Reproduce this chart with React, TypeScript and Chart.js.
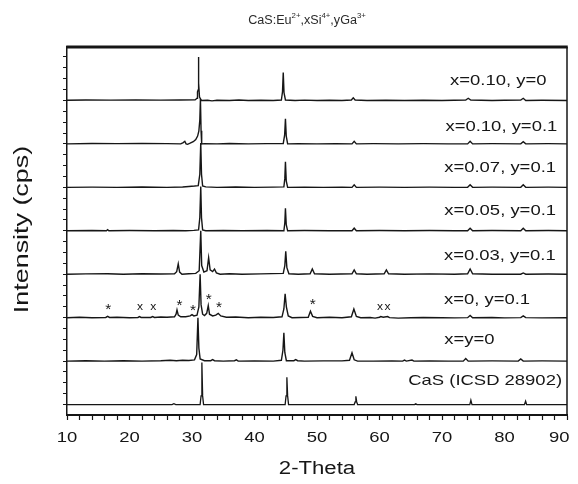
import React, { useEffect, useRef } from 'react';
import { Chart, registerables } from 'chart.js';

Chart.register(...registerables);

// ---------- data ----------
const SERIES_LABELS = [
  'x=0.10, y=0',
  'x=0.10, y=0.1',
  'x=0.07, y=0.1',
  'x=0.05, y=0.1',
  'x=0.03, y=0.1',
  'x=0, y=0.1',
  'x=y=0',
  'CaS (ICSD 28902)',
];
// stacking position of each pattern (one unit per pattern)
const STACK_OFFSETS = [7, 6, 5, 4, 3, 2, 1, 0];
// label anchor (2-theta) and height above its own baseline
const LABEL_X = [79.0, 79.5, 79.3, 79.3, 79.25, 77.2, 74.4, 76.9];
const LABEL_Y = [0.45, 0.39, 0.44, 0.45, 0.42, 0.42, 0.5, 0.55];

const X_TICK_LABELS = [10, 20, 30, 40, 50, 60, 70, 80, 90];
const Y_TICK_VALUES = [
  0, 0.25, 0.5, 0.75, 1, 1.25, 1.5, 1.75, 2, 2.25, 2.5, 2.75, 3, 3.25, 3.5, 3.75,
  4, 4.25, 4.5, 4.75, 5, 5.25, 5.5, 5.75, 6, 6.25, 6.5, 6.75, 7, 7.25, 7.5, 7.75, 8,
];

// impurity markers on the "x=0, y=0.1" pattern
const MARKER_SERIES = 5;
const MARKER_SYMBOLS = ['*', 'x', 'x', '*', '*', '*', '*', '*', 'x', 'x'];
const MARKER_X = [16.6, 21.7, 23.8, 28.0, 30.15, 32.66, 34.3, 49.3, 60.1, 61.3];
const MARKER_Y = [0.24, 0.24, 0.24, 0.33, 0.21, 0.47, 0.27, 0.34, 0.24, 0.24];

type P = [number, number];

const TRACE_X010_Y0: P[] = [
  [10, 0.005], [13, 0.01], [17, 0.008], [21, 0.01], [25, 0.008], [28, 0.01], [30.5, 0.012],
  [30.8, 0.05], [30.88, 0.2], [30.98, 0.24], [31.02, 0.5], [31.05, 1.0], [31.1, 0.4], [31.2, 0.08],
  [31.5, 0.0], [32.5, 0.005], [33.2, -0.01], [34, 0.005], [36, 0.0], [37.5, 0.01], [39, 0.0],
  [41, 0.005], [43, 0.0], [44.3, 0.01], [44.48, 0.2], [44.6, 0.64], [44.72, 0.18], [44.95, 0.01],
  [46.5, 0.0], [48, 0.008], [50, 0.0], [52, 0.005], [54, 0.0], [55.5, 0.01], [55.8, 0.06],
  [56.1, 0.01], [58, 0.0], [61, 0.006], [64, 0.0], [67, 0.005], [70, 0.0], [73.8, 0.01],
  [74.2, 0.05], [74.6, 0.01], [78, 0.0], [80, 0.005], [82.6, 0.01], [83, 0.05], [83.4, 0.0],
  [86, 0.005], [90, 0.0],
];

const TRACE_X010_Y01: P[] = [
  [10, 0.0], [14, 0.008], [18, 0.005], [22, 0.008], [26, 0.005], [28.2, 0.0], [28.6, 0.03],
  [28.85, 0.06], [29.05, 0.0], [29.3, -0.01], [29.7, 0.015], [30.2, 0.05], [30.6, 0.1],
  [30.9, 0.18], [31.1, 0.3], [31.25, 0.55], [31.35, 1.03], [31.45, 0.3], [31.55, 0.0],
  [32, 0.005], [34, 0.0], [36, 0.008], [39, 0.0], [42, 0.005], [44.6, 0.01], [44.82, 0.2],
  [44.95, 0.58], [45.08, 0.18], [45.3, 0.0], [47, 0.005], [50, 0.0], [53, 0.005], [55.6, 0.0],
  [55.95, 0.06], [56.3, 0.0], [59, 0.005], [63, 0.0], [67, 0.005], [71, 0.0], [74.1, 0.0],
  [74.5, 0.06], [74.9, 0.0], [78, 0.005], [82.6, 0.0], [83, 0.05], [83.4, 0.0], [87, 0.005],
  [90, 0.0],
];

const TRACE_X007_Y01: P[] = [
  [10, 0.0], [14, 0.005], [18, 0.0], [22, 0.008], [26, 0.0], [28.5, 0.008], [29.5, 0.02],
  [30.4, 0.03], [31.0, 0.04], [31.25, 0.3], [31.4, 1.02], [31.52, 0.3], [31.7, 0.03],
  [32.2, 0.01], [34, 0.0], [37, 0.008], [40, 0.0], [43, 0.005], [44.7, 0.01], [44.85, 0.2],
  [44.95, 0.59], [45.08, 0.15], [45.3, 0.0], [48, 0.005], [51, 0.0], [54, 0.005], [55.6, 0.0],
  [55.95, 0.06], [56.3, 0.0], [60, 0.005], [64, 0.0], [68, 0.005], [72, 0.0], [74.1, 0.0],
  [74.5, 0.06], [74.9, 0.0], [78, 0.005], [82.6, 0.0], [83, 0.06], [83.4, 0.0], [87, 0.005],
  [90, 0.0],
];

const TRACE_X005_Y01: P[] = [
  [10, 0.0], [14, 0.005], [16.3, 0.0], [16.5, 0.025], [16.7, 0.0], [20, 0.005], [24, 0.0],
  [27, 0.008], [29, 0.0], [30.3, 0.01], [31.05, 0.02], [31.25, 0.3], [31.4, 1.02], [31.52, 0.3],
  [31.7, 0.02], [32.2, 0.0], [35, 0.005], [38, 0.0], [42, 0.008], [44.7, 0.0], [44.85, 0.18],
  [44.95, 0.52], [45.08, 0.14], [45.3, 0.0], [48, 0.005], [52, 0.0], [55.6, 0.0], [55.95, 0.06],
  [56.3, 0.0], [60, 0.005], [64, 0.0], [68, 0.005], [72, 0.0], [74.1, 0.0], [74.5, 0.06],
  [74.9, 0.0], [78, 0.005], [82.6, 0.0], [83, 0.06], [83.4, 0.0], [87, 0.005], [90, 0.0],
];

const TRACE_X003_Y01: P[] = [
  [10, 0.0], [13, 0.008], [16.5, 0.01], [19, 0.0], [22, 0.01], [25, 0.005], [27.2, 0.01],
  [27.55, 0.06], [27.8, 0.24], [28.02, 0.05], [28.4, 0.0], [29.5, 0.01], [30.6, 0.02],
  [31.15, 0.08], [31.4, 1.0], [31.55, 0.2], [31.9, 0.05], [32.4, 0.08], [32.66, 0.38],
  [32.9, 0.1], [33.3, 0.06], [33.6, 0.12], [33.9, 0.03], [34.5, 0.0], [36, 0.01], [38, 0.0],
  [41, 0.008], [44.6, 0.02], [44.85, 0.2], [45.0, 0.53], [45.18, 0.15], [45.5, 0.01], [47, 0.0],
  [48.9, 0.01], [49.25, 0.12], [49.6, 0.01], [52, 0.0], [55.6, 0.01], [55.95, 0.1], [56.3, 0.01],
  [58, 0.0], [60.75, 0.01], [61.1, 0.1], [61.45, 0.01], [64, 0.0], [68, 0.008], [72, 0.0],
  [74.1, 0.01], [74.5, 0.12], [74.9, 0.01], [78, 0.0], [82.6, 0.0], [83, 0.03], [83.4, 0.0],
  [87, 0.005], [90, 0.0],
];

const TRACE_X0_Y01: P[] = [
  [10, 0.0], [12, 0.01], [14, 0.0], [16.2, 0.005], [16.5, 0.03], [16.8, 0.005], [18, 0.01],
  [20, 0.0], [21.35, 0.005], [21.6, 0.025], [21.85, 0.005], [23.4, 0.005], [23.7, 0.025],
  [24, 0.005], [25, 0.015], [26, 0.01], [27.2, 0.02], [27.45, 0.08], [27.6, 0.18], [27.8, 0.06],
  [28.2, 0.02], [29.0, 0.02], [29.7, 0.04], [30.0, 0.07], [30.3, 0.04], [30.8, 0.06],
  [31.1, 0.25], [31.3, 1.0], [31.45, 0.3], [31.7, 0.08], [32.0, 0.05], [32.35, 0.1],
  [32.6, 0.28], [32.8, 0.08], [33.3, 0.04], [33.8, 0.06], [34.2, 0.1], [34.6, 0.04],
  [35.5, 0.01], [37, 0.015], [39, 0.0], [41, 0.01], [43, 0.005], [44.4, 0.02], [44.7, 0.2],
  [44.9, 0.55], [45.1, 0.25], [45.4, 0.04], [46, 0.0], [48.6, 0.01], [48.95, 0.15], [49.3, 0.03],
  [50, 0.0], [52, 0.01], [54, 0.0], [55.5, 0.02], [55.9, 0.2], [56.3, 0.03], [57, 0.0],
  [58.5, 0.005], [59.3, -0.01], [60.0, 0.01], [60.2, 0.025], [60.6, 0.01], [61.3, 0.025],
  [61.6, 0.0], [63, -0.01], [65, 0.0], [67, 0.005], [70, 0.0], [72, -0.005], [74.1, 0.0],
  [74.5, 0.05], [74.9, 0.0], [78, 0.005], [80, -0.005], [82.6, 0.0], [83, 0.04], [83.4, 0.0],
  [86, -0.005], [90, 0.0],
];

const TRACE_X0_Y0: P[] = [
  [10, 0.0], [13, 0.008], [16, 0.0], [19, 0.01], [22, 0.0], [25, 0.01], [26.5, 0.02],
  [27.5, 0.01], [28.5, 0.02], [29.5, 0.015], [30.4, 0.03], [30.75, 0.15], [30.95, 1.0],
  [31.1, 0.3], [31.3, 0.05], [32, 0.01], [33.0, 0.01], [33.3, 0.035], [33.6, 0.01], [35, 0.0],
  [36.8, 0.01], [37.1, 0.03], [37.4, 0.0], [40, 0.005], [43, 0.0], [44.3, 0.02], [44.55, 0.25],
  [44.7, 0.65], [44.85, 0.2], [45.1, 0.01], [46.3, 0.01], [46.6, 0.035], [46.9, 0.01], [48, 0.0],
  [51, 0.005], [54, 0.005], [55.2, 0.02], [55.6, 0.19], [55.95, 0.03], [56.5, 0.0], [59, 0.0],
  [62, 0.005], [63.7, 0.0], [64, 0.025], [64.3, 0.0], [65.2, 0.025], [65.5, 0.0], [68, 0.005],
  [71, 0.0], [73.4, 0.0], [73.8, 0.06], [74.2, 0.0], [78, 0.005], [82.2, 0.0], [82.6, 0.05],
  [83, 0.0], [86, 0.005], [90, 0.0],
];

const TRACE_CAS_ICSD: P[] = [
  [10, 0], [26.8, 0], [27.1, 0.02], [27.4, 0], [31.3, 0], [31.45, 0.2], [31.58, 0.97],
  [31.7, 0.2], [31.85, 0], [44.9, 0], [45.05, 0.2], [45.18, 0.63], [45.3, 0.2], [45.45, 0],
  [55.95, 0], [56.1, 0.06], [56.22, 0.19], [56.35, 0.06], [56.5, 0], [65.6, 0], [65.8, 0.02],
  [66.0, 0], [74.45, 0], [74.62, 0.1], [74.8, 0], [83.2, 0], [83.38, 0.08], [83.55, 0], [90, 0],
];

const TRACES = [
  TRACE_X010_Y0, TRACE_X010_Y01, TRACE_X007_Y01, TRACE_X005_Y01,
  TRACE_X003_Y01, TRACE_X0_Y01, TRACE_X0_Y0, TRACE_CAS_ICSD,
];

const X_TITLE = '2-Theta';
const Y_TITLE = 'Intensity (cps)';
const TITLE_PARTS: { t: string; sup?: boolean }[] = [
  { t: 'CaS:Eu' }, { t: '2+', sup: true }, { t: ',xSi' }, { t: '4+', sup: true },
  { t: ',yGa' }, { t: '3+', sup: true },
];

// ---------- styling ----------
const INK = '#161616';
const FONT = '"Liberation Sans", Arial, sans-serif';
const STRETCH = 1.23;

function drawText(
  ctx: CanvasRenderingContext2D, text: string, x: number, y: number,
  size: number, stretch: number, rotate = false, align: CanvasTextAlign = 'center',
) {
  ctx.save();
  ctx.translate(x, y);
  if (rotate) ctx.rotate(-Math.PI / 2);
  ctx.scale(stretch, 1);
  ctx.font = `${size}px ${FONT}`;
  ctx.textAlign = align;
  ctx.textBaseline = 'middle';
  ctx.fillText(text, 0, 0);
  ctx.restore();
}

function textWidth(ctx: CanvasRenderingContext2D, text: string, size: number, stretch: number) {
  ctx.save();
  ctx.font = `${size}px ${FONT}`;
  const w = ctx.measureText(text).width * stretch;
  ctx.restore();
  return w;
}

function drawRichTitle(ctx: CanvasRenderingContext2D, cx: number, cy: number, size: number, stretch: number) {
  const supSize = size * 0.62;
  ctx.save();
  const widths = TITLE_PARTS.map((p) => textWidth(ctx, p.t, p.sup ? supSize : size, stretch));
  const total = widths.reduce((a, b) => a + b, 0);
  let x = cx - total / 2;
  TITLE_PARTS.forEach((p, i) => {
    ctx.save();
    ctx.translate(x, p.sup ? cy - size * 0.4 : cy);
    ctx.scale(stretch, 1);
    ctx.font = `${p.sup ? supSize : size}px ${FONT}`;
    ctx.textAlign = 'left';
    ctx.textBaseline = 'middle';
    ctx.fillStyle = '#2a2a2a';
    ctx.fillText(p.t, 0, 0);
    ctx.restore();
    x += widths[i];
  });
  ctx.restore();
}

const decorPlugin = {
  id: 'decor',
  afterDraw(chart: any) {
    const { ctx, chartArea: a, scales, width } = chart;
    const xs = scales.x;
    const ys = scales.y;
    ctx.save();
    ctx.strokeStyle = INK;
    ctx.lineWidth = 3;
    ctx.beginPath();
    ctx.moveTo(a.left - 0.75, a.top);
    ctx.lineTo(a.right + 0.75, a.top);
    ctx.stroke();
    ctx.lineWidth = 1.5;
    ctx.beginPath();
    ctx.moveTo(a.right, a.top);
    ctx.lineTo(a.right, a.bottom);
    ctx.stroke();

    ctx.fillStyle = INK;
    X_TICK_LABELS.forEach((v) => {
      const label = String(v);
      const half = textWidth(ctx, label, 15, STRETCH) / 2;
      const px = Math.min(xs.getPixelForValue(v), width - half - 0.5);
      drawText(ctx, label, px, a.bottom + 23, 15, STRETCH);
    });
    drawText(ctx, X_TITLE, (a.left + a.right) / 2, a.bottom + 54, 18, STRETCH);
    drawText(ctx, Y_TITLE, 14, (a.top + a.bottom) / 2 - 1.5, 21, 1.28, true);
    drawRichTitle(ctx, (a.left + a.right) / 2 - 10, 13, 12, 1.05);

    ctx.fillStyle = INK;
    SERIES_LABELS.forEach((t, i) => {
      drawText(ctx, t, xs.getPixelForValue(LABEL_X[i]),
        ys.getPixelForValue(STACK_OFFSETS[i] + LABEL_Y[i]), 15, STRETCH);
    });

    MARKER_SYMBOLS.forEach((s, i) => {
      const px = xs.getPixelForValue(MARKER_X[i]);
      const py = ys.getPixelForValue(STACK_OFFSETS[MARKER_SERIES] + MARKER_Y[i]);
      drawText(ctx, s, px, py + (s === '*' ? 2.5 : 0), s === '*' ? 14 : 11, 1.1);
    });
    ctx.restore();
  },
};

export default function App() {
  const ref = useRef<HTMLCanvasElement | null>(null);

  useEffect(() => {
    if (!ref.current) return;
    const datasets = TRACES.map((pts, i) => ({
      label: SERIES_LABELS[i],
      data: pts.map(([x, y]) => ({ x, y: y + STACK_OFFSETS[i] })),
      borderColor: INK,
      borderWidth: i === TRACES.length - 1 ? 1.3 : 1.4,
      pointRadius: 0,
      tension: 0,
      fill: false,
    }));

    const chart = new Chart(ref.current, {
      type: 'line',
      data: { datasets },
      options: {
        animation: false,
        responsive: true,
        maintainAspectRatio: false,
        layout: { padding: { top: 39, right: 3, left: 0, bottom: 0 } },
        plugins: {
          legend: { display: false },
          tooltip: { enabled: false },
          title: { display: false },
        },
        scales: {
          x: {
            type: 'linear',
            min: 10,
            max: 90,
            ticks: { stepSize: 2, autoSkip: false, maxRotation: 0, callback: () => '' },
            grid: {
              drawOnChartArea: false, drawTicks: true, tickLength: 5,
              tickColor: INK, tickWidth: 1.2,
            },
            border: { display: true, color: INK, width: 2 },
            afterFit: (s: any) => { s.height = 61; },
          },
          y: {
            type: 'linear',
            min: -0.24,
            max: 8.23,
            afterBuildTicks: (s: any) => { s.ticks = Y_TICK_VALUES.map((v) => ({ value: v })); },
            ticks: { autoSkip: false, callback: () => '' },
            grid: {
              drawOnChartArea: false, drawTicks: true, tickLength: 4,
              tickColor: INK, tickWidth: 1,
            },
            border: { display: true, color: INK, width: 1.5 },
            afterFit: (s: any) => { s.width = 59; },
          },
        },
      },
      plugins: [decorPlugin],
    });
    return () => chart.destroy();
  }, []);

  return (
    <div style={{ width: 562, height: 468, position: 'relative' }}>
      <canvas ref={ref} />
    </div>
  );
}
